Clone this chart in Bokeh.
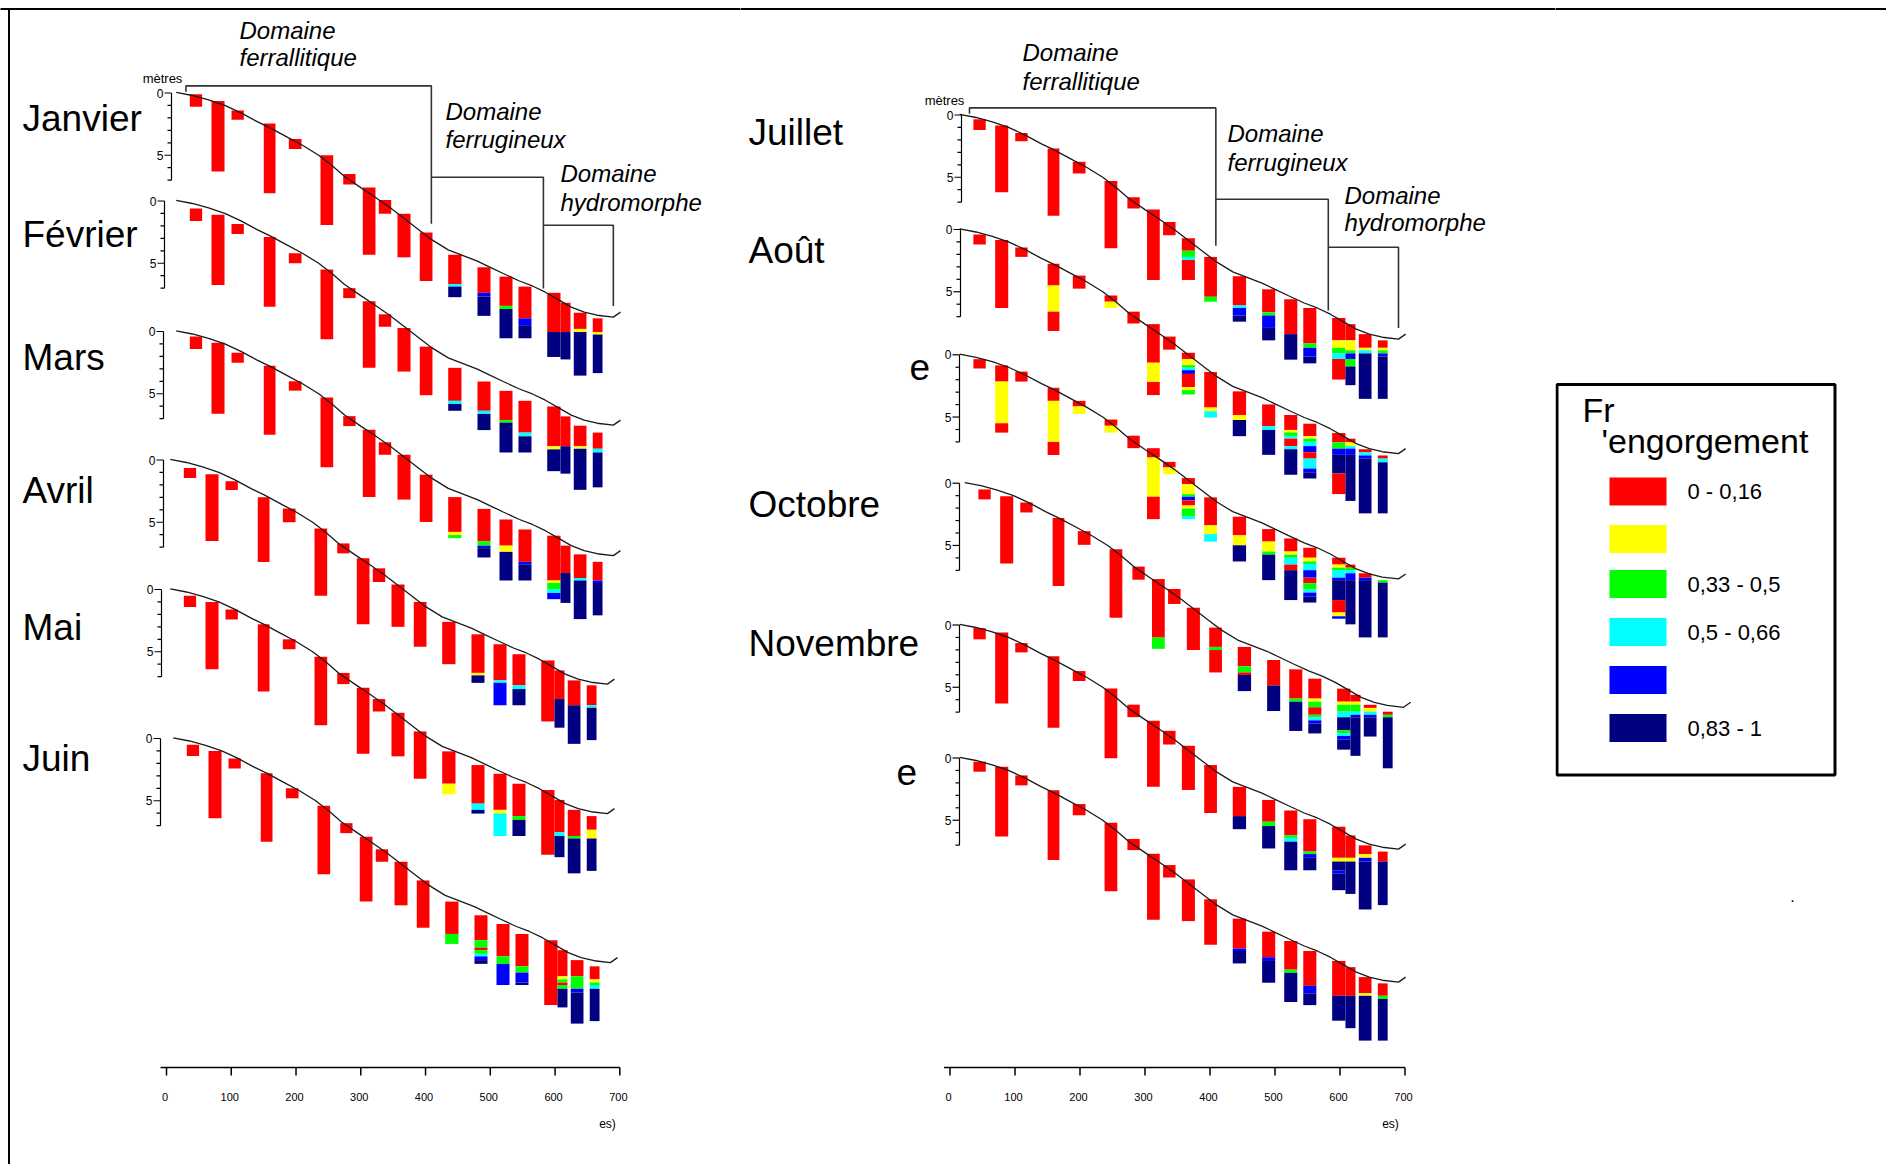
from bokeh.plotting import figure
from bokeh.models import ColumnDataSource, Range1d
from bokeh.layouts import row
from bokeh.embed import file_html
from bokeh.resources import INLINE
from bokeh.core.properties import value

# ------------------------------------------------------------------ data
# borehole positions along the transect (metres)
HOLE_START = [36.0, 69.5, 100.4, 150.2, 188.9, 237.8, 272.9, 303.1, 327.8, 356.7,
              391.1, 435.0, 480.2, 514.2, 543.5, 587.9, 608.4, 628.9, 658.2]
HOLE_END = [55.0, 89.6, 119.4, 168.3, 208.5, 257.4, 291.9, 322.7, 347.0, 376.8,
            410.7, 455.5, 500.3, 534.3, 563.6, 608.4, 623.8, 648.5, 673.3]

# ground surface (distance m, depth m)
PROFILE_DIST = [15, 40, 65, 90, 115, 140, 160, 185, 210, 235, 255, 275, 300, 320, 345, 365,
                390, 410, 435, 455, 480, 500, 520, 545, 565, 585, 605, 625, 645, 665, 690, 701]
PROFILE_DEPTH = [-0.05, 0.2, 0.55, 1.0, 1.6, 2.3, 2.8, 3.5, 4.2, 5.0, 5.8, 6.7, 7.6, 8.3, 9.2, 10.0,
                 11.0, 11.8, 12.6, 13.0, 13.5, 14.0, 14.5, 15.1, 15.5, 16.0, 16.6, 17.2, 17.6, 17.85, 18.0, 17.6]

# classes of waterlogging frequency
CLASS_CODES = ["R", "Y", "G", "C", "B", "N"]
CLASS_COLORS = ["#ff0000", "#ffff00", "#00ff00", "#00ffff", "#0000ff", "#000080"]
CLASS_LABELS = ["0 - 0,16", "", "0,33 - 0,5", "0,5 - 0,66", "", "0,83 - 1"]

# each column: "top  CODEbottom CODEbottom ..." (depths in m)
JANVIER = ["0.1 R1.1", "0.65 R6.3", "1.4 R2.15", "2.45 R8.05", "3.7 R4.5", "5.0 R10.6", "6.5 R7.35",
           "7.6 R13.0", "8.6 R9.7", "9.7 R13.2", "11.2 R15.1",
           "13.0 R15.35 C15.55 N16.4", "14.0 R16.05 B16.35 N17.9", "14.75 R17.1 G17.35 N19.7",
           "15.55 R18.1 B18.65 N19.7", "16.05 R19.2 N21.2", "16.85 R19.2 N21.4",
           "17.65 R18.95 Y19.2 N22.7", "18.1 R19.2 Y19.4 N22.5"]
FEVRIER = ["0.6 R1.6", "1.1 R6.75", "1.85 R2.65", "2.9 R8.5", "4.2 R5.0", "5.5 R11.1", "7.0 R7.8",
           "8.05 R13.4", "9.1 R10.1", "10.2 R13.7", "11.7 R15.6",
           "13.4 R16.05 C16.3 N16.85", "14.5 R16.85 C17.1 N18.4", "15.25 R17.6 G17.8 N20.2",
           "16.05 R18.6 C18.9 N20.2", "16.5 R19.7 Y19.95 N21.7", "17.3 R19.7 N21.9",
           "18.05 R19.7 Y19.9 N23.2", "18.6 R19.9 C20.2 N23.0"]
MARS = ["0.4 R1.4", "0.9 R6.6", "1.7 R2.5", "2.75 R8.3", "4.0 R4.75", "5.3 R10.9", "6.8 R7.6",
        "7.9 R13.3", "8.9 R9.9", "9.9 R13.5", "11.5 R15.3",
        "13.3 R16.1 Y16.35 G16.6", "14.25 R16.85 G17.2 B17.4 N18.15", "15.1 R17.2 Y17.7 N20.0",
        "15.9 R18.5 B18.7 N20.0", "16.4 R20.0 Y20.2 G20.7 C21.0 B21.5", "17.2 R19.4 N21.8",
        "17.9 R19.8 C20.0 N23.1", "18.5 R20.0 B20.2 N22.8"]
AVRIL = ["0.65 R1.45", "1.15 R6.5", "1.7 R2.4", "3.0 R8.2", "3.9 R5.0", "5.5 R10.9", "6.7 R7.5",
         "7.9 R13.2", "8.7 R9.8", "10.0 R13.4", "11.4 R15.0",
         "13.0 R16.4", "14.0 R17.1 Y17.3 N17.9", "14.8 R17.7 C17.9 B19.7",
         "15.6 R18.1 C18.4 N19.7", "16.1 R21.0", "16.9 R19.2 N21.5",
         "17.7 R19.7 N22.8", "18.1 R19.7 C19.9 N22.5"]
MAI = ["0.5 R1.4", "1.0 R6.4", "1.6 R2.4", "2.8 R8.2", "4.0 R4.8", "5.4 R10.9", "6.7 R7.6",
       "7.9 R13.2", "8.8 R9.8", "9.9 R13.4", "11.4 R15.2",
       "13.0 R15.6 Y16.45", "14.1 R17.2 C17.7 N18.0", "14.8 R17.7 Y18.0 C19.8",
       "15.6 R18.2 G18.5 N19.8", "16.1 R21.3", "16.9 R19.5 C19.8 N21.5",
       "17.7 R19.8 G20.0 N22.8", "18.2 R19.3 Y20.0 N22.6"]
JUIN = ["0.5 R1.4", "1.0 R6.4", "1.6 R2.4", "2.8 R8.3", "4.0 R4.8", "5.4 R10.9", "6.8 R7.6",
        "7.9 R13.1", "8.9 R9.9", "9.9 R13.4", "11.4 R15.2",
        "13.1 R15.7 G16.5", "14.2 R16.2 G16.8 R17.0 G17.3 C17.5 B17.8 N18.1",
        "14.9 R17.5 G18.1 B19.8", "15.7 R18.3 G18.8 B19.6 N19.8", "16.2 R21.4",
        "17.0 R19.1 Y19.35 G19.6 R19.8 G20.1 N21.6", "17.8 R19.1 G20.1 B20.4 N22.9",
        "18.3 R19.35 Y19.6 G19.8 C20.1 N22.7"]
JUILLET = ["0.35 R1.2", "0.85 R6.2", "1.45 R2.1", "2.7 R8.1", "3.75 R4.7", "5.3 R10.7", "6.6 R7.5",
           "7.6 R13.25", "8.6 R9.65", "9.9 R10.9 G11.4 C11.65 R13.25", "11.4 R14.6 G15.0",
           "12.95 R15.3 C15.5 B16.1 N16.6", "14.0 R15.85 G16.1 B17.1 N18.1", "14.8 R17.6 N19.65",
           "15.5 R18.35 G18.7 B19.4 N19.95", "16.3 R18.1 Y18.7 G19.15 C19.6 R21.25",
           "16.8 R18.1 Y18.9 G19.15 B19.6 G20.2 N21.7", "17.6 R18.7 Y18.9 C19.15 N22.8",
           "18.1 R18.7 Y18.9 G19.15 B19.4 N22.8"]
AOUT = ["0.4 R1.2", "0.85 R6.3", "1.45 R2.2", "2.75 R4.5 Y6.6 R8.15", "3.7 R4.75", "5.3 R5.8 Y6.3",
        "6.6 R7.55", "7.6 R10.7 Y12.25 R13.3", "8.6 R9.65",
        "9.9 R10.4 Y10.9 G11.1 C11.3 B11.6 R12.65 Y12.9 G13.25", "11.45 R14.3 Y14.6 C15.1",
        "13.0 R14.9 Y15.3 N16.6", "14.05 R15.8 C16.1 N18.1",
        "14.9 R16.1 Y16.3 G16.6 C16.8 R17.4 C17.65 N19.7",
        "15.6 R16.6 Y16.8 G17.05 C17.4 B17.9 R18.4 C19.2 B19.5 N20.0",
        "16.35 R17.1 G17.6 B18.1 N19.6 R21.25", "16.8 R17.1 Y17.4 C17.6 B18.1 N21.8",
        "17.65 R17.9 C18.15 B18.4 N22.8", "18.15 R18.4 C18.7 N22.8"]
SEPTEMBRE = ["0.35 R1.1", "0.85 R2.15 Y5.5 R6.25", "1.35 R2.15", "2.65 R3.7 Y7.0 R8.05",
             "3.7 R4.15 Y4.75", "5.2 R5.7 Y6.25", "6.5 R7.5", "7.5 R8.25 Y11.4 R13.2", "8.6 R9.05 Y9.6",
             "9.9 R10.4 Y11.2 G11.4 B11.7 R12.1 Y12.35 G12.95 C13.2", "11.45 R13.7 Y14.4 C15.0",
             "13.0 R14.5 Y15.3 N16.6", "14.0 R15.0 Y15.8 G16.05 N18.1",
             "14.75 R15.8 Y16.05 G16.3 C16.85 R17.3 N19.7",
             "15.5 R16.3 Y16.6 G16.8 C17.3 B17.9 R18.35 G18.85 C19.1 B19.4 N19.9",
             "16.3 R16.85 Y17.1 G17.3 C17.9 B18.1 N19.7 R20.7 Y21.0 B21.2",
             "16.85 R17.1 G17.3 C17.55 B18.1 N21.65", "17.55 R17.9 B18.1 N22.7", "18.1 G18.3 N22.7"]
OCTOBRE = ["0.5 R1.3", "1.05 R6.45", "1.55 R2.35", "2.8 R8.25", "3.85 R4.95", "5.3 R10.8", "6.7 R7.75",
           "7.7 R12.4 G13.3", "8.5 R9.7", "10.0 R13.4", "11.6 R13.15 G13.4 R15.2",
           "13.15 R14.7 G15.2 R15.4 N16.7", "14.2 R16.25 N18.3", "14.95 R17.3 G17.55 N19.9",
           "15.7 R17.3 Y17.55 G18.0 R18.6 G18.8 C19.05 B19.3 N20.1",
           "16.5 R17.55 Y17.8 G18.35 C18.8 N19.85 G20.1 C20.3 B20.6 N21.4",
           "17.0 R17.55 Y17.8 G18.35 C18.6 B18.8 N21.9", "17.8 R18.05 Y18.35 C18.6 B18.8 N20.35",
           "18.35 R18.6 G18.8 N22.9"]
NOVEMBRE = ["0.25 R1.15", "0.6 R6.3", "1.45 R2.2", "2.5 R8.25", "3.7 R4.5", "5.1 R10.7", "6.4 R7.4",
            "7.7 R13.0", "8.5 R9.6", "9.7 R13.25", "11.25 R15.1",
            "13.0 R15.35 N16.4", "14.05 R15.8 G16.15 N17.95", "14.9 R16.9 G17.1 C17.4 N19.7",
            "15.6 R18.2 G18.4 B18.7 N19.7", "16.2 R18.7 Y19.0 N19.7 B19.95 N21.3",
            "16.9 R18.7 Y19.0 N21.6", "17.7 R18.4 Y18.7 B19.0 N22.85", "18.2 R19.0 N22.5"]
DECEMBRE = ["0.3 R1.1", "0.7 R6.3", "1.4 R2.2", "2.6 R8.2", "3.7 R4.6", "5.2 R10.7", "6.5 R7.4",
            "7.7 R13.0", "8.6 R9.6", "9.75 R13.1", "11.35 R15.0",
            "12.9 R15.3 B15.5 N16.5", "13.95 R16.0 B16.3 N18.05", "14.7 R17.0 G17.25 N19.6",
            "15.5 R18.3 B18.9 N19.85", "16.3 R19.1 N21.1", "16.8 R19.1 N21.7",
            "17.6 R18.9 Y19.1 N22.7", "18.1 R19.1 G19.35 N22.7"]

MONTH_NAMES_LEFT = ["Janvier", "Février", "Mars", "Avril", "Mai", "Juin"]
MONTH_NAMES_RIGHT = ["Juillet", "Août", "e", "Octobre", "Novembre", "e"]
MONTH_DATA_LEFT = [JANVIER, FEVRIER, MARS, AVRIL, MAI, JUIN]
MONTH_DATA_RIGHT = [JUILLET, AOUT, SEPTEMBRE, OCTOBRE, NOVEMBRE, DECEMBRE]

X_TICKS = [0, 100, 200, 300, 400, 500, 600, 700]
DEPTH_TICKS = [0, 1, 2, 3, 4, 5, 6, 7]
DEPTH_LABELS = [0, 5]

DOMAIN_NAMES = ["ferrallitique", "ferrugineux", "hydromorphe"]
BRACKET_X = [30, 409, 582, 690]          # domain limits (m)
BRACKET_LEVEL = [-0.57, 6.77, 10.62]      # horizontal bar of each bracket (depth, m)
BRACKET_END = [10.5, 15.7, 17.1]          # lower end of each bracket (depth, m)

# ------------------------------------------------------------------ layout (page px)
PAGE_W, PAGE_H = 1886, 1164
SY = 12.45
LEFT = dict(x0=0, x1=740, X0=166.0, SX=0.6476, Y0=92.5,
            panel_y=[92.5, 200.5, 331.0, 459.5, 589.0, 738.0],
            panel_dx=[0, 0, 0, -6, -6, -3],
            axis_x=[171, 164, 163, 163, 161, 160],
            name_x=[22] * 6, name_y=[131, 247, 370, 503, 640, 771],
            dom_x=[239, 445, 560], dom_y1=[38, 119, 181], dom_y2=[65, 147, 210],
            metres=(162, 83), es=(607, 1128))
RIGHT = dict(x0=740, x1=1555, X0=949.5, SX=0.650, Y0=114.5,
             panel_y=[114.5, 229.0, 354.3, 482.7, 624.5, 757.5],
             panel_dx=[0, 0, 0, 5, 0, 0],
             axis_x=[961, 960, 959, 959, 959, 959],
             name_x=[748, 748, 909, 748, 748, 896], name_y=[145, 263, 379, 517, 656, 784],
             dom_x=[1022, 1227, 1344], dom_y1=[60, 141, 203], dom_y2=[89, 170, 230],
             metres=(944, 105), es=(1390, 1128))

FONT = "Liberation Sans"


def parse_column(col):
    toks = col.split()
    top = float(toks[0])
    out = []
    for t in toks[1:]:
        bottom = float(t[1:])
        out.append((top, bottom, t[0]))
        top = bottom
    return out


def txt(p, xs, ys, texts, size, style="normal", align="left"):
    p.text(x=xs, y=ys, text=texts, text_font=value(FONT), text_font_size=value(f"{size}px"),
           text_font_style=style, text_align=align, text_baseline="middle", text_color="black")


def base_fig(x0, x1, xr, yr):
    p = figure(width=x1 - x0, height=PAGE_H, x_range=xr, y_range=yr,
               output_backend="svg", toolbar_location=None, min_border=0,
               x_axis_location=None, y_axis_location=None, outline_line_color=None,
               background_fill_color="white", border_fill_color="white")
    p.grid.visible = False
    return p


def half(cfg, names, datas):
    X0, SX, Y0 = cfg["X0"], cfg["SX"], cfg["Y0"]
    xd = lambda px: (px - X0) / SX
    yd = lambda py: (py - Y0) / SY
    mid = lambda base, size: yd(base - 0.35 * size)   # baseline -> middle of text
    p = base_fig(cfg["x0"], cfg["x1"], Range1d(xd(cfg["x0"]), xd(cfg["x1"])),
                 Range1d(yd(PAGE_H), yd(0)))

    # bars
    L, R, T, B, C = [], [], [], [], []
    for m, data in enumerate(datas):
        off = yd(cfg["panel_y"][m])
        dx = cfg["panel_dx"][m] / SX
        for j, col in enumerate(data):
            for top, bottom, code in parse_column(col):
                L.append(HOLE_START[j] + dx)
                R.append(HOLE_END[j] + dx)
                T.append(top + off)
                B.append(bottom + off)
                C.append(CLASS_COLORS[CLASS_CODES.index(code)])
    p.quad(left="l", right="r", top="t", bottom="b", color="c", line_color=None,
           source=ColumnDataSource(dict(l=L, r=R, t=T, b=B, c=C)))

    # surface profiles
    for m in range(len(datas)):
        off = yd(cfg["panel_y"][m])
        dx = cfg["panel_dx"][m] / SX
        p.line([d + dx for d in PROFILE_DIST], [z + off for z in PROFILE_DEPTH],
               line_color="#1a1a1a", line_width=1.3)

    # small depth axes of every panel
    major_len = 7 / SX
    minor_len = 4 / SX
    for m in range(len(datas)):
        off = yd(cfg["panel_y"][m])
        ax = xd(cfg["axis_x"][m])
        p.segment(x0=[ax], y0=[DEPTH_TICKS[0] + off], x1=[ax], y1=[DEPTH_TICKS[-1] + off],
                  line_color="black", line_width=1.2)
        tl = [major_len if t in DEPTH_LABELS else minor_len for t in DEPTH_TICKS]
        p.segment(x0=[ax - l for l in tl], y0=[t + off for t in DEPTH_TICKS],
                  x1=[ax] * len(DEPTH_TICKS), y1=[t + off for t in DEPTH_TICKS],
                  line_color="black", line_width=1.2)
        p.text(x=[ax - major_len - 1 / SX] * len(DEPTH_LABELS), y=[t + off for t in DEPTH_LABELS],
               text=[str(t) for t in DEPTH_LABELS], text_font=value(FONT),
               text_font_size=value("12px"), text_align="right", text_baseline="middle")

    # "mètres"
    mx, my = cfg["metres"]
    txt(p, [xd(mx)], [mid(my, 13)], ["mètres"], 13, align="center")

    # domain brackets (drawn with the first panel)
    bx, by = [], []
    for k in range(3):
        start = -0.1 if k == 0 else BRACKET_LEVEL[k]
        bx.append([BRACKET_X[k], BRACKET_X[k], BRACKET_X[k + 1], BRACKET_X[k + 1]])
        by.append([start, BRACKET_LEVEL[k], BRACKET_LEVEL[k], BRACKET_END[k]])
    p.multi_line(xs=bx, ys=by, line_color="#333333", line_width=1.6)
    txt(p, [xd(x) for x in cfg["dom_x"]], [mid(y, 24) for y in cfg["dom_y1"]], ["Domaine"] * 3,
        24, style="italic")
    txt(p, [xd(x) for x in cfg["dom_x"]], [mid(y, 24) for y in cfg["dom_y2"]], DOMAIN_NAMES,
        24, style="italic")

    # month names
    txt(p, [xd(x) for x in cfg["name_x"]], [mid(y, 37) for y in cfg["name_y"]], names, 37)

    # distance axis
    ya = yd(1067)
    p.segment(x0=[X_TICKS[0] - 6 / SX], y0=[ya], x1=[X_TICKS[-1]], y1=[ya],
              line_color="black", line_width=1.5)
    p.segment(x0=X_TICKS, y0=[ya] * len(X_TICKS), x1=X_TICKS, y1=[ya + 8 / SY] * len(X_TICKS),
              line_color="black", line_width=1.5)
    p.text(x=[t - 1.5 / SX for t in X_TICKS], y=[yd(1096)] * len(X_TICKS),
           text=[str(t) for t in X_TICKS], text_font=value(FONT), text_font_size=value("11px"),
           text_align="center", text_baseline="middle")
    ex, ey = cfg["es"]
    txt(p, [xd(ex)], [mid(ey, 12)], ["es)"], 12, align="center")

    # top frame line of the original picture
    p.segment(x0=[xd(cfg["x0"] - 5)], y0=[yd(8.5)], x1=[xd(cfg["x1"] + 5)], y1=[yd(8.5)],
              line_color="black", line_width=2)
    return p, xd, yd


left, lxd, lyd = half(LEFT, MONTH_NAMES_LEFT, MONTH_DATA_LEFT)
left.segment(x0=[lxd(8.5)], y0=[lyd(7.5)], x1=[lxd(8.5)], y1=[lyd(PAGE_H + 5)],
             line_color="black", line_width=2)
right, _, _ = half(RIGHT, MONTH_NAMES_RIGHT, MONTH_DATA_RIGHT)

# ------------------------------------------------------------------ legend (page px units)
lg = base_fig(1555, PAGE_W, Range1d(1555, PAGE_W), Range1d(PAGE_H, 0))
lg.segment(x0=[1550], y0=[8.5], x1=[PAGE_W + 5], y1=[8.5], line_color="black", line_width=2)
lg.quad(left=[1556.5], right=[1834.5], top=[384], bottom=[774.5], fill_color=None,
        line_color="black", line_width=3)
txt(lg, [1582], [421 - 0.35 * 34], ["Fr"], 34)
txt(lg, [1601], [452 - 0.35 * 34], ["'engorgement"], 34)
ROW_Y = [491, 538.5, 583.5, 631.5, 679.5, 727.5]
lg.quad(left=[1609] * 6, right=[1666] * 6, top=[y - 14 for y in ROW_Y],
        bottom=[y + 14 for y in ROW_Y], color=CLASS_COLORS, line_color=None)
txt(lg, [1687] * 6, ROW_Y, CLASS_LABELS, 22)
txt(lg, [1792], [901 - 0.35 * 16], ["."], 16, align="center")

page = row(left, right, lg)
open("out.html", "w").write(file_html(page, INLINE, title="Fréquence d'engorgement"))
